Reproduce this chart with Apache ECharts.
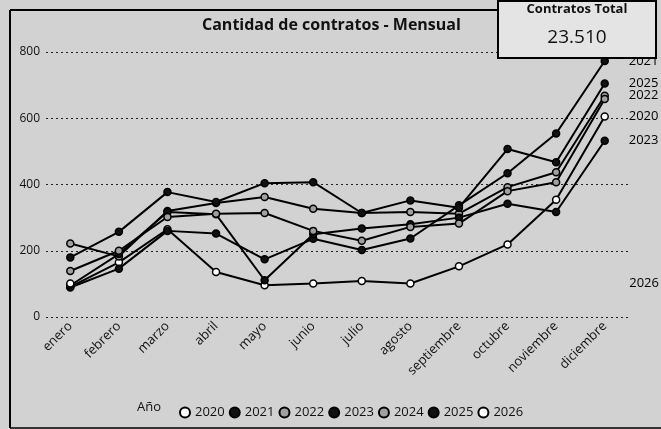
<!DOCTYPE html>
<html>
<head>
<meta charset="utf-8">
<script src="https://cdn.jsdelivr.net/npm/echarts@6/dist/echarts.min.js"></script>
<style>
html,body{margin:0;padding:0;background:#d2d2d2;}
#c{width:661px;height:429px;}
</style>
</head>
<body>
<div id="c"></div>
<script>
// ---- data ----
const months = ['enero','febrero','marzo','abril','mayo','junio','julio','agosto','septiembre','octubre','noviembre','diciembre'];
const years = ['2020','2021','2022','2023','2024','2025','2026'];
const y2020 = [91,165,265,136,96,101,109,101,153,219,354,605];
const y2021 = [89,146,260,252,174,236,202,237,337,434,554,773];
const y2022 = [222,183,320,344,362,327,314,317,312,392,437,668];
const y2023 = [95,190,317,310,111,250,267,280,300,342,317,532];
const y2024 = [139,200,302,312,314,260,230,272,282,380,407,658];
const y2025 = [180,257,377,347,404,407,314,352,330,507,467,705];
const y2026 = [101,null,null,null,null,null,null,null,null,null,null,null];
const yTicks = [0,200,400,600,800];
const totalLabel = 'Contratos Total';
const totalValue = '23.510';

const seriesData = [y2020,y2021,y2022,y2023,y2024,y2025,y2026];
const fills = ['#ffffff','#111111','#a0a0a0','#111111','#a0a0a0','#111111','#ffffff'];
const showEnd = [true,true,true,true,false,true,false];
const FONT = '"Open Sans", "Noto Sans", sans-serif';

const series = years.map((y,i)=>{
  const s = {
    name: y,
    type: 'line',
    data: seriesData[i],
    symbol: 'circle',
    symbolSize: 7,
    connectNulls: false,
    lineStyle: {color:'#000', width: 2},
    itemStyle: {color: fills[i], borderColor:'#000', borderWidth: 1.5},
    emphasis: {disabled:true},
    z: 3,
    endLabel: {
      show: showEnd[i],
      formatter: '{a}',
      distance: 24,
      color: '#000',
      fontSize: 13,
      fontFamily: FONT
    }
  };
  if (y === '2026') {
    s.markPoint = {
      symbol: 'circle', symbolSize: 1,
      itemStyle: {color:'rgba(0,0,0,0)'},
      label: {show:true, position:'right', distance: 24, formatter: y, color:'#000', fontSize: 13, fontFamily: FONT},
      data: [{coord: [months.length-1, seriesData[i][0]]}]
    };
  }
  return s;
});

const chart = echarts.init(document.getElementById('c'), null, {renderer:'canvas'});
chart.setOption({
  backgroundColor: '#d2d2d2',
  animation: false,
  title: {
    text: 'Cantidad de contratos - Mensual',
    left: 197, top: 12,
    textStyle: {fontSize: 16, fontWeight: 'bold', color: '#111', fontFamily: FONT}
  },
  grid: {left: 46, right: 32, top: 52, height: 265, containLabel: false},
  xAxis: {
    type: 'category',
    data: months,
    boundaryGap: true,
    axisLine: {show:false},
    axisTick: {show:false},
    axisLabel: {rotate: 45, margin: 7, fontSize: 13, color:'#111', fontFamily: FONT, interval: 0}
  },
  yAxis: {
    type: 'value',
    min: yTicks[0], max: yTicks[yTicks.length-1], interval: 200,
    axisLine: {show:false},
    axisTick: {show:false},
    axisLabel: {fontSize: 12, color:'#111', fontFamily: FONT, align:'right', margin: 6},
    splitLine: {show:true, lineStyle: {type:[2,3], color:'#222', width:1}}
  },
  legend: {
    data: years,
    left: 174, top: 401,
    icon: 'circle',
    itemWidth: 10, itemHeight: 10, itemGap: 4,
    textStyle: {fontSize: 13, color:'#111', fontFamily: FONT}
  },
  graphic: [
    {type:'line', shape:{x1:10,y1:10,x2:10,y2:428}, style:{stroke:'#000', lineWidth:2}, z:10},
    {type:'line', shape:{x1:10,y1:10,x2:500,y2:10}, style:{stroke:'#000', lineWidth:2}, z:10},
    {type:'line', shape:{x1:10,y1:428,x2:661,y2:428}, style:{stroke:'#000', lineWidth:1.5}, z:10},
    {type:'text', left: 137, top: 401, style:{text:'Año', fontSize: 13, fill:'#111', fontFamily: FONT}, z:10},
    {type:'group', left: 497, top: 0, z: 100, children: [
      {type:'rect', shape:{x:0,y:0,width:158,height:57}, style:{fill:'#e4e4e4', stroke:'#000', lineWidth:2}, z:100},
      {type:'text', style:{text: totalLabel, x:79, y:2, align:'center', verticalAlign:'top', fontSize:13, fontWeight:'bold', fill:'#111', fontFamily: FONT}, z:101},
      {type:'text', style:{text: totalValue, x:79, y:27, align:'center', verticalAlign:'top', fontSize:19, fill:'#111', fontFamily: FONT}, z:101}
    ]}
  ],
  series: series
});
</script>
</body>
</html>
